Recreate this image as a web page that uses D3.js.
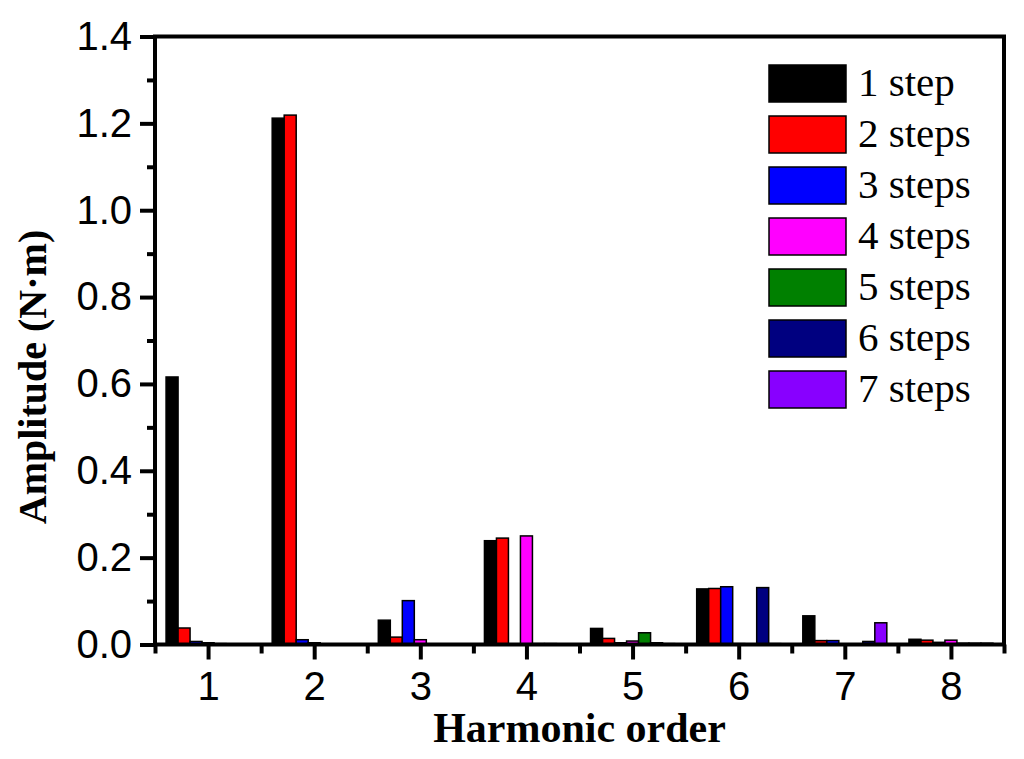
<!DOCTYPE html>
<html>
<head>
<meta charset="utf-8">
<script src="https://d3js.org/d3.v7.min.js"></script>
<style>
  body { margin: 0; background: #fff; }
  svg { display: block; }
</style>
</head>
<body>
<script>
// harmonic orders and series (one array per number of steps)
var harmonics = [1, 2, 3, 4, 5, 6, 7, 8];
var stepNames = ["1 step", "2 steps", "3 steps", "4 steps", "5 steps", "6 steps", "7 steps"];
var stepColors = ["#000000", "#ff0000", "#0000ff", "#ff00ff", "#008000", "#000080", "#8800ff"];

var step1 = [0.616, 1.212, 0.056, 0.239, 0.037, 0.128, 0.066, 0.012];
var step2 = [0.038, 1.219, 0.017, 0.245, 0.014, 0.129, 0.009, 0.010];
var step3 = [0.007, 0.011, 0.101, 0.000, 0.004, 0.133, 0.009, 0.005];
var step4 = [0.004, 0.004, 0.011, 0.250, 0.008, 0.002, 0.001, 0.010];
var step5 = [0.002, 0.001, 0.001, 0.002, 0.027, 0.001, 0.001, 0.003];
var step6 = [0.001, 0.001, 0.001, 0.002, 0.004, 0.131, 0.007, 0.003];
var step7 = [0.001, 0.001, 0.001, 0.001, 0.002, 0.002, 0.050, 0.003];
var series = [step1, step2, step3, step4, step5, step6, step7];

var yMajor = [0, 0.2, 0.4, 0.6, 0.8, 1.0, 1.2, 1.4];
var yMinor = [0.1, 0.3, 0.5, 0.7, 0.9, 1.1, 1.3];
var xMinor = [0.5, 1.5, 2.5, 3.5, 4.5, 5.5, 6.5, 7.5, 8.5];

var width = 1024, height = 759;
var margin = { left: 155, right: 20, top: 36.5, bottom: 114.5 };

var svg = d3.select("body").append("svg")
  .attr("width", width)
  .attr("height", height);

var x = d3.scaleLinear().domain([0.5, 8.5]).range([margin.left, width - margin.right]);
var y = d3.scaleLinear().domain([0, 1.4]).range([height - margin.bottom, margin.top]);

// position of each step inside a harmonic group
var inner = d3.scaleBand().domain(d3.range(stepNames.length)).range([-42, 42]).padding(0);

// table for the bars
var barData = [];
series.forEach(function (vals, s) {
  vals.forEach(function (v, i) {
    barData.push({ step: s, h: harmonics[i], v: v });
  });
});

svg.append("g").selectAll("rect")
  .data(barData)
  .join("rect")
  .attr("x", function (d) { return x(d.h) + inner(d.step); })
  .attr("y", function (d) { return y(d.v); })
  .attr("width", inner.bandwidth())
  .attr("height", function (d) { return y(0) - y(d.v); })
  .attr("fill", function (d) { return stepColors[d.step]; })
  .attr("stroke", "#000")
  .attr("stroke-width", 1.5);

// axes
function styleAxis(g) {
  g.select(".domain").remove();
  g.selectAll(".tick line").attr("stroke", "#000").attr("stroke-width", 4);
  g.selectAll(".tick text")
    .attr("fill", "#000")
    .style("font-family", "'Liberation Sans', Arial, sans-serif")
    .style("font-size", "40px");
}

svg.append("g")
  .attr("transform", "translate(" + margin.left + ",0)")
  .call(d3.axisLeft(y).tickValues(yMajor).tickSize(15).tickPadding(8).tickFormat(d3.format(".1f")))
  .call(styleAxis);

svg.append("g")
  .attr("transform", "translate(" + margin.left + ",0)")
  .call(d3.axisLeft(y).tickValues(yMinor).tickSize(8).tickFormat(""))
  .call(styleAxis);

svg.append("g")
  .attr("transform", "translate(0," + y(0) + ")")
  .call(d3.axisBottom(x).tickValues(harmonics).tickSize(15).tickPadding(12).tickFormat(d3.format("d")))
  .call(styleAxis);

svg.append("g")
  .attr("transform", "translate(0," + y(0) + ")")
  .call(d3.axisBottom(x).tickValues(xMinor).tickSize(9).tickFormat(""))
  .call(styleAxis);

// frame
svg.append("rect")
  .attr("x", x(0.5))
  .attr("y", y(1.4))
  .attr("width", x(8.5) - x(0.5))
  .attr("height", y(0) - y(1.4))
  .attr("fill", "none")
  .attr("stroke", "#000")
  .attr("stroke-width", 4);

// axis titles
svg.append("text")
  .attr("transform", "translate(46,377) rotate(-90)")
  .attr("text-anchor", "middle")
  .style("font-family", "'Liberation Serif', 'Times New Roman', serif")
  .style("font-weight", "bold")
  .style("font-size", "40px")
  .text("Amplitude (N\u00b7m)");

svg.append("text")
  .attr("x", (x(0.5) + x(8.5)) / 2)
  .attr("y", 742)
  .attr("text-anchor", "middle")
  .style("font-family", "'Liberation Serif', 'Times New Roman', serif")
  .style("font-weight", "bold")
  .style("font-size", "42px")
  .text("Harmonic order");

// legend
var legend = svg.append("g").attr("transform", "translate(769,65)");
var rows = legend.selectAll("g")
  .data(stepNames)
  .join("g")
  .attr("transform", function (d, i) { return "translate(0," + (i * 51) + ")"; });

rows.append("rect")
  .attr("width", 77)
  .attr("height", 37)
  .attr("fill", function (d, i) { return stepColors[i]; })
  .attr("stroke", "#000")
  .attr("stroke-width", 1.5);

rows.append("text")
  .attr("x", 89)
  .attr("y", 31)
  .style("font-family", "'Liberation Serif', 'Times New Roman', serif")
  .style("font-size", "41px")
  .text(function (d) { return d; });
</script>
</body>
</html>
